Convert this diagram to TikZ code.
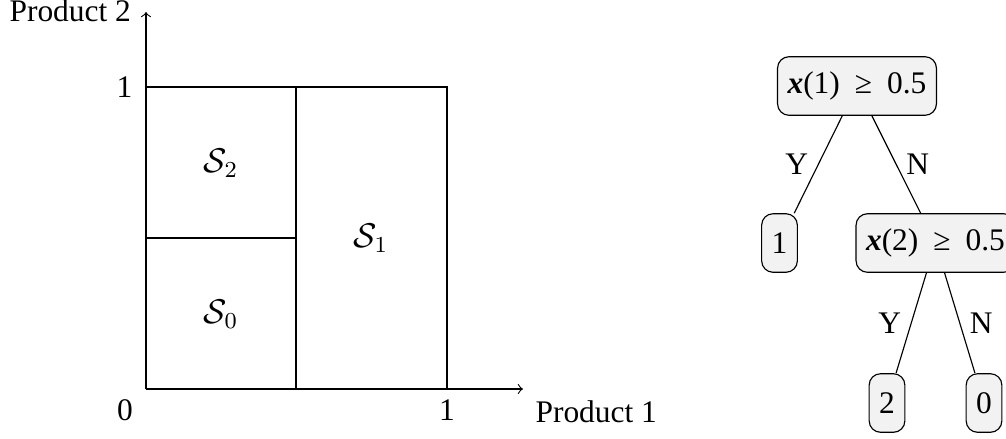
\documentclass[tikz,border=0pt]{standalone}
\usepackage{fontspec}
\setmainfont{Liberation Serif}
\begin{document}
\begin{tikzpicture}[x=0.35pt,y=-0.35pt, font=\fontsize{11}{13}\selectfont,
  tnode/.style={draw, rounded corners=4pt, fill=gray!10, minimum height=20.5pt, inner xsep=3.5pt, inner ysep=2pt},
  lbl/.style={inner sep=0pt},
  region/.style={draw, line width=0.4pt},
  axisline/.style={->, line width=0.4pt},
  edgeline/.style={line width=0.4pt}]
\useasboundingbox (0,0) rectangle (1006,438);
% axes
\coordinate (O) at (146,389);
\coordinate (XE) at (523,389);
\coordinate (YE) at (146,12);
\draw[axisline] (O) -- (XE);
\draw[axisline] (O) -- (YE);
% regions
\coordinate (TL) at (146,87);
\coordinate (TM) at (296,87);
\coordinate (TR) at (447,87);
\coordinate (BR) at (447,389);
\coordinate (BM) at (296,389);
\coordinate (ML) at (146,238);
\coordinate (MM) at (296,238);
\draw[region] (TL) -- (TR) -- (BR);
\draw[region] (TM) -- (BM);
\draw[region] (ML) -- (MM);
% labels
\node[lbl, anchor=base west] (p2) at (9,22) {Product 2};
\node[lbl, anchor=base west] (p1) at (535,422) {Product 1};
\node[lbl, anchor=base] (t0) at (125,420) {0};
\node[lbl, anchor=base] (tx1) at (447,420) {1};
\node[lbl, anchor=base east] (ty1) at (133,97) {1};
\node[font=\fontsize{12}{14}\selectfont] (s2) at (221,163) {$\mathcal{S}_2$};
\node[font=\fontsize{12}{14}\selectfont] (s1) at (371,238) {$\mathcal{S}_1$};
\node[font=\fontsize{12}{14}\selectfont] (s0) at (221,314) {$\mathcal{S}_0$};
% tree
\node[tnode] (r) at (857,86) {\textbf{\textit{x}}(1)\hspace{2.5pt} ≥ \hspace{2.5pt}0.5};
\node[tnode] (n1) at (779.5,243) {1};
\node[tnode] (n2) at (935.5,243) {\textbf{\textit{x}}(2)\hspace{2.5pt} ≥ \hspace{2.5pt}0.5};
\node[tnode] (n3) at (887,403) {2};
\node[tnode] (n4) at (984,403) {0};
\draw[edgeline] (r) -- node[midway,left] {Y} (n1);
\draw[edgeline] (r) -- node[midway,right] {N} (n2);
\draw[edgeline] (n2) -- node[midway,left] {Y} (n3);
\draw[edgeline] (n2) -- node[midway,right] {N} (n4);
\end{tikzpicture}
\end{document}
